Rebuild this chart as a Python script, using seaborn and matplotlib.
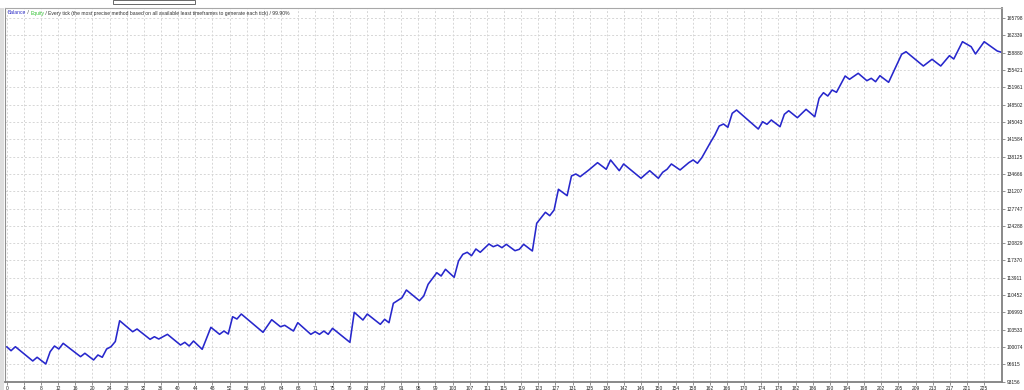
import numpy as np
import pandas as pd
import matplotlib
matplotlib.use("Agg")
import matplotlib.pyplot as plt
from matplotlib.patches import Rectangle
import seaborn as sns

# ---- data ----
trades = [0, 1, 2, 6, 7, 9, 10, 11, 12, 13, 17, 18, 20, 21, 22, 23, 24, 25, 26,
          29, 30, 33, 34, 35, 37, 40, 41, 42, 43, 45, 47, 49, 50, 51, 52, 53, 54,
          59, 61, 63, 64, 66, 67, 70, 71, 72, 73, 74, 75, 79, 80, 82, 83, 86, 87,
          88, 89, 91, 92, 95, 96, 97, 99, 100, 101, 103, 104, 105, 106, 107, 108,
          109, 111, 112, 113, 114, 115, 117, 118, 119, 121, 122, 124, 125, 126,
          127, 129, 130, 131, 132, 134, 136, 138, 139, 141, 142, 146, 148, 150,
          151, 152, 153, 155, 157, 158, 159, 160, 162, 163, 164, 165, 166, 167,
          168, 173, 174, 175, 176, 178, 179, 180, 182, 184, 186, 187, 188, 189,
          190, 191, 193, 194, 196, 198, 199, 200, 201, 203, 206, 207, 211, 213,
          215, 217, 218, 220, 222, 223, 225, 228, 229]
balance = [100110, 99310, 100110, 97260, 98000, 96660, 99110, 100250, 99650, 100790,
           98120, 98800, 97460, 98460, 98000, 99650, 100110, 101150, 105310,
           103110, 103650, 101590, 102110, 101650, 102590, 100450, 100990, 100250,
           101250, 99590, 103990, 102590, 103250, 102650, 106110, 105650, 106650,
           102990, 105510, 104110, 104390, 103250, 104910, 102590, 103110, 102590,
           103250, 102590, 103790, 100990, 106990, 105450, 106650, 104590, 105590,
           104910, 108790, 109910, 111450, 109310, 110250, 112590, 114910, 114250,
           115590, 113990, 117250, 118590, 118990, 118310, 119650, 118990, 120650,
           120110, 120450, 119910, 120590, 119310, 119590, 120590, 119250, 124790,
           126990, 126310, 127450, 131590, 130310, 134250, 134650, 134110, 135450,
           136910, 135590, 137450, 135310, 136650, 133790, 135310, 133790, 134990,
           135590, 136650, 135450, 136910, 137450, 136790, 137900, 140980, 142440,
           144240, 144640, 143980, 146780, 147440, 143640, 145100, 144580, 145440,
           144100, 146580, 147300, 145900, 147580, 146100, 149780, 150900, 150240,
           151440, 150980, 154240, 153580, 154780, 153300, 153780, 153100, 154300,
           152980, 158580, 159100, 156240, 157580, 156240, 158300, 157640, 161100,
           160100, 158640, 161100, 159240, 158980]

x_tick_labels = ["0", "4", "8", "12", "16", "20", "24", "28", "32", "36", "40", "44",
                 "48", "52", "56", "60", "64", "68", "71", "75", "79", "83", "87",
                 "91", "95", "99", "103", "107", "111", "115", "119", "123", "127",
                 "131", "135", "138", "142", "146", "150", "154", "158", "162",
                 "166", "170", "174", "178", "182", "186", "190", "194", "198",
                 "202", "205", "209", "213", "217", "221", "225"]
y_tick_values = [93156, 96615, 100074, 103533, 106993, 110452, 113911, 117370,
                 120829, 124288, 127747, 131207, 134666, 138125, 141584, 145043,
                 148502, 151961, 155421, 158880, 162339, 165798]

legend_parts = [("Balance", "#3030c8"), (" / ", "#303030"), ("Equity", "#30c030"),
                (" / Every tick (the most precise method based on all available least "
                 "timeframes to generate each tick) / 99.90%", "#303030")]

# ---- styling ----
sns.set_style("white")
plt.rcParams["font.family"] = ["Liberation Sans", "DejaVu Sans"]

W, H = 1024, 390
fig = plt.figure(figsize=(W / 100, H / 100), dpi=100)
fig.patch.set_facecolor("white")
ax = fig.add_axes([5 / W, 8.5 / H, 997 / W, 374 / H])

df = pd.DataFrame({"trade": trades, "balance": balance})
sns.lineplot(data=df, x="trade", y="balance", color="#2727cc", linewidth=1.15, ax=ax)

ax.set_xlim(-0.39, 229.1)
ax.set_ylim(93156, 167937)

xt = np.arange(len(x_tick_labels)) * 225 / 57
ax.set_xticks(xt)
ax.set_xticklabels(x_tick_labels)
ax.set_yticks(y_tick_values)
ax.set_yticklabels([str(v) for v in y_tick_values])
ax.yaxis.tick_right()
ax.set_xlabel("")
ax.set_ylabel("")

ax.grid(True, color="#d6d6d6", linestyle=(0, (2, 2)), linewidth=0.7)
ax.tick_params(axis="both", length=2, width=0.6, color="#808080",
               labelsize=3.5, pad=1.2, labelcolor="#202020")
ax.tick_params(axis="y", left=False, right=True)
ax.tick_params(axis="x", top=False, bottom=True)

for side in ["right", "bottom"]:
    ax.spines[side].set_color("#808080")
    ax.spines[side].set_linewidth(1.3)
ax.spines["top"].set_color("#a8a8a8")
ax.spines["top"].set_linewidth(0.8)
ax.spines["left"].set_color("#909090")
ax.spines["left"].set_linewidth(0.8)

# left window frame strip
fig.patches.append(Rectangle((0, 0), 4 / W, 1 - 7.5 / H, transform=fig.transFigure,
                             facecolor="#dedede", edgecolor="none", zorder=0))
# top tab remnant
fig.patches.append(Rectangle((113 / W, 1 - 3.5 / H), 82 / W, 3.5 / H,
                             transform=fig.transFigure, facecolor="white",
                             edgecolor="#505050", linewidth=0.6))

# legend caption
prev = fig.text(8 / W, 1 - 13 / H, legend_parts[0][0], color=legend_parts[0][1],
                fontsize=3.6, ha="left", va="center")
for txt, col in legend_parts[1:]:
    prev = ax.annotate(txt, xy=(1, 0.5), xycoords=prev, color=col, fontsize=3.6,
                       ha="left", va="center")

fig.savefig("out.png", dpi=100)
